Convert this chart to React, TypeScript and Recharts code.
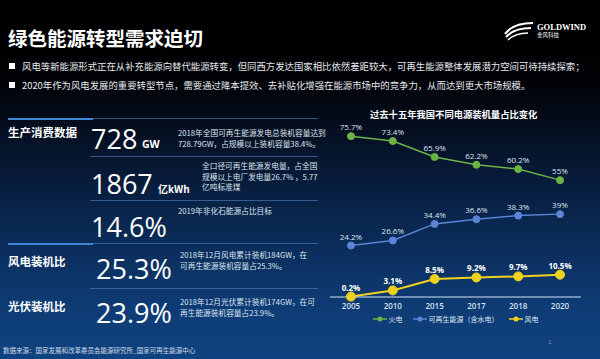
import React from 'react';
import { LineChart, Line, XAxis, YAxis, Legend, LabelList } from 'recharts';

const years = ['2005', '2010', '2015', '2017', '2018', '2020'];
const thermal = [75.7, 73.4, 65.9, 62.2, 60.2, 55];
const renewable = [24.2, 26.6, 34.4, 36.6, 38.3, 39];
const wind = [0.2, 3.1, 8.5, 9.2, 9.7, 10.5];

const seriesNames = ['火电', '可再生能源（含水电）', '风电'];
const COLORS = ['#6cb445', '#5b84d6', '#f0d21e'];

const bullets = [
  '风电等新能源形式正在从补充能源向替代能源转变，但同西方发达国家相比依然差距较大，可再生能源整体发展潜力空间可待持续探索；',
  '2020年作为风电发展的重要转型节点，需要通过降本提效、去补贴化增强在能源市场中的竞争力，从而达到更大市场规模。',
];

const data = years.map((year, i) => ({
  year,
  thermal: thermal[i],
  renewable: renewable[i],
  wind: wind[i],
}));

const CJK = '"Noto Sans CJK SC", "Noto Sans", sans-serif';
const NUM = '"Open Sans", "Noto Sans", sans-serif';

const pct = (v: any) => `${v}%`;

const LegendContent = () => (
  <div style={{ display: 'flex', justifyContent: 'center', gap: 10, fontFamily: CJK, fontSize: 7, color: '#dfe6f0' }}>
    {seriesNames.map((name, i) => (
      <div key={name} style={{ display: 'flex', alignItems: 'center', gap: 2 }}>
        <svg width={14} height={8}>
          <line x1={0} y1={4} x2={14} y2={4} stroke={COLORS[i]} strokeWidth={1.5} />
          <circle cx={7} cy={4} r={2.5} fill={COLORS[i]} />
        </svg>
        <span>{name}</span>
      </div>
    ))}
  </div>
);

const abs = (left: number, top: number, extra: React.CSSProperties = {}): React.CSSProperties => ({
  position: 'absolute',
  left,
  top,
  whiteSpace: 'nowrap',
  lineHeight: 1,
  ...extra,
});

const Divider = ({ top, brightLeft }: { top: number; brightLeft: boolean }) => (
  <>
    <div style={{ position: 'absolute', left: 90, top, width: 228, height: 1, background: 'rgba(90,140,210,0.55)' }} />
    {brightLeft && (
      <div style={{ position: 'absolute', left: 8, top, width: 85, height: 2, background: '#3d86d6' }} />
    )}
  </>
);

const App: React.FC = () => {
  const desc: React.CSSProperties = { fontFamily: CJK, fontSize: 7.7, color: '#dbe3ee', lineHeight: '10.5px' };
  const big: React.CSSProperties = { fontFamily: NUM, color: '#ffffff', fontSize: 27 };
  const head: React.CSSProperties = { fontFamily: CJK, color: '#ffffff', fontSize: 11.5, fontWeight: 700 };

  return (
    <div
      style={{
        position: 'fixed',
        left: 0,
        top: 0,
        width: 600,
        height: 359,
        overflow: 'hidden',
        background:
          'linear-gradient(to bottom, #000000 0%, #010205 22%, #06142b 42%, #0a2a55 65%, #0e3b74 85%, #0f437f 100%)',
      }}
    >
      <div style={abs(8, 28, { fontFamily: CJK, fontSize: 19.5, color: '#ffffff', fontWeight: 700 })}>
        绿色能源转型需求迫切
      </div>

      {/* logo */}
      <svg style={{ position: 'absolute', left: 503, top: 20 }} width={32} height={24}>
        <path d="M2,14 Q10,3 30,3" stroke="#fff" strokeWidth={2.2} fill="none" />
        <path d="M3,17 Q11,8 28,8" stroke="#fff" strokeWidth={2} fill="none" />
        <path d="M5,20 Q12,13 25,13" stroke="#fff" strokeWidth={1.6} fill="none" />
      </svg>
      <div style={abs(537, 23, { fontFamily: '"Liberation Serif", serif', fontSize: 8.5, color: '#fff', fontWeight: 700 })}>
        GOLDWIND
      </div>
      <div style={abs(537, 33, { fontFamily: CJK, fontSize: 5.5, color: '#fff' })}>金风科技</div>

      {bullets.map((b, i) => (
        <React.Fragment key={i}>
          <div style={abs(9, 63 + i * 19, { width: 6, height: 6, background: '#ffffff' })} />
          <div style={abs(22, 62 + i * 19, { fontFamily: CJK, fontSize: 9.4, color: '#e6e9ee' })}>{b}</div>
        </React.Fragment>
      ))}

      <Divider top={118} brightLeft />
      <Divider top={156} brightLeft={false} />
      <Divider top={200} brightLeft={false} />
      <Divider top={243} brightLeft />
      <Divider top={288} brightLeft={false} />

      <div style={abs(8, 127, head)}>生产消费数据</div>
      <div style={abs(91, 125, big)}>728</div>
      <div style={abs(142, 139, { fontFamily: NUM, fontSize: 10.5, color: '#fff', fontWeight: 700 })}>GW</div>
      <div style={abs(178, 128, desc)}>
        2018年全国可再生能源发电总装机容量达到
        <br />
        728.79GW，占规模以上装机容量38.4%。
      </div>

      <div style={abs(91, 170, big)}>1867</div>
      <div style={abs(158, 184, { fontFamily: CJK, fontSize: 10, color: '#fff', fontWeight: 700 })}>亿kWh</div>
      <div style={abs(202, 161, desc)}>
        全口径可再生能源发电量，占全国
        <br />
        规模以上电厂发电量26.7% ，5.77
        <br />
        亿吨标准煤
      </div>

      <div style={abs(178, 206, desc)}>2019年非化石能源占比目标</div>
      <div style={abs(91, 213, big)}>14.6%</div>

      <div style={abs(8, 256, head)}>风电装机比</div>
      <div style={abs(96, 255, big)}>25.3%</div>
      <div style={abs(180, 250, desc)}>
        2018年12月风电累计装机184GW，在
        <br />
        可再生能源装机容量占25.3%。
      </div>

      <div style={abs(8, 301, head)}>光伏装机比</div>
      <div style={abs(96, 299, big)}>23.9%</div>
      <div style={abs(180, 297, desc)}>
        2018年12月光伏累计装机174GW，在可
        <br />
        再生能源装机容量占23.9%。
      </div>

      <div style={abs(3, 347, { fontFamily: CJK, fontSize: 6.5, color: '#cfd8e6' })}>
        数据来源：国家发展和改革委员会能源研究所_国家可再生能源中心
      </div>
      <div style={abs(548, 339, { fontFamily: NUM, fontSize: 6, color: '#8796ad' })}>2</div>

      <div style={abs(370, 110, { fontFamily: CJK, fontSize: 9.3, color: '#ffffff', fontWeight: 700 })}>
        过去十五年我国不同电源装机量占比变化
      </div>

      <div style={{ position: 'absolute', left: 330, top: 100 }}>
        <LineChart width={270} height={240} data={data} margin={{ top: 27, right: 19, bottom: 10, left: 0 }}>
          <XAxis
            dataKey="year"
            padding={{ left: 21, right: 21 }}
            axisLine={{ stroke: '#d4e3f5', strokeWidth: 1 }}
            tickLine={false}
            tickSize={4}
            height={17}
            tick={{ fill: '#d8e2ef', fontSize: 8, fontWeight: 600, fontFamily: NUM }}
          />
          <YAxis hide domain={[0, 80]} />
          <Legend verticalAlign="bottom" height={16} content={<LegendContent />} />
          <Line
            dataKey="thermal"
            name={seriesNames[0]}
            stroke={COLORS[0]}
            strokeWidth={1.5}
            dot={{ r: 3.5, fill: COLORS[0], stroke: COLORS[0], strokeWidth: 1 }}
            isAnimationActive={false}
          >
            <LabelList dataKey="thermal" position="top" offset={6} formatter={pct} fill="#dfe6f0" fontSize={8} fontFamily={NUM} />
          </Line>
          <Line
            dataKey="renewable"
            name={seriesNames[1]}
            stroke={COLORS[1]}
            strokeWidth={1.5}
            dot={{ r: 3.5, fill: COLORS[1], stroke: COLORS[1], strokeWidth: 1 }}
            isAnimationActive={false}
          >
            <LabelList dataKey="renewable" position="top" offset={6} formatter={pct} fill="#dfe6f0" fontSize={8} fontFamily={NUM} />
          </Line>
          <Line
            dataKey="wind"
            name={seriesNames[2]}
            stroke={COLORS[2]}
            strokeWidth={2}
            dot={{ r: 4.5, fill: COLORS[2], stroke: COLORS[2], strokeWidth: 1 }}
            isAnimationActive={false}
          >
            <LabelList dataKey="wind" position="top" offset={6} formatter={pct} fill="#ffffff" fontSize={8} fontWeight={700} fontFamily={NUM} />
          </Line>
        </LineChart>
      </div>
    </div>
  );
};

export default App;
